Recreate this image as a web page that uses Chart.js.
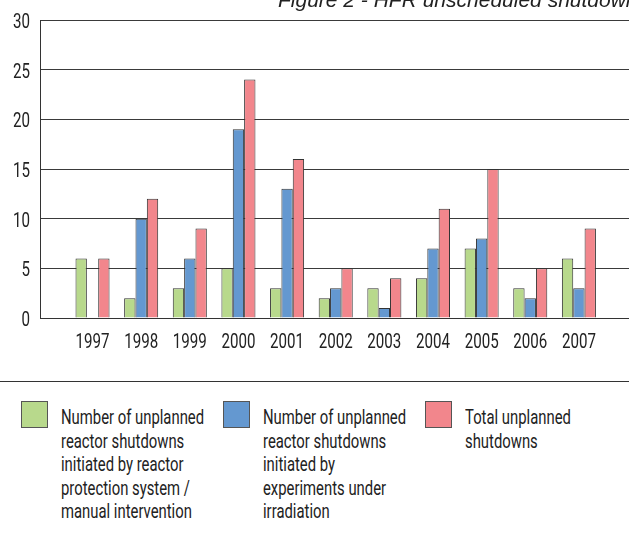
<!DOCTYPE html>
<html>
<head>
<meta charset="utf-8">
<script src="https://cdn.jsdelivr.net/npm/chart.js@4.4.1/dist/chart.umd.min.js"></script>
<style>
    html, body { margin: 0; padding: 0; background: #fff; overflow: hidden; }
    #page { position: relative; width: 629px; height: 533px; overflow: hidden; }
    #title {
        position: absolute; left: 278px; top: -11px; white-space: nowrap;
        font: italic 21px/21px "Liberation Sans", Arial, sans-serif; color: #222;
    }
    #chart-box { position: absolute; left: 0; top: 0; width: 629px; height: 380px; }
    #rule { position: absolute; left: 0; top: 381px; width: 629px; height: 0; border-top: 1.5px solid #333; }
    .legend-item { position: absolute; top: 401px; }
    .legend-item .swatch {
        position: absolute; left: 0; top: 0; width: 27px; height: 27px;
        box-sizing: border-box; border: 1px solid #555;
    }
    .legend-item .label {
        position: absolute; top: 5px; white-space: nowrap; color: #222;
        font: 21px/23.5px Roboto, "Liberation Sans", sans-serif;
        transform-origin: 0 0;
    }
</style>
</head>
<body>
<div id="page">
    <div id="chart-box"><canvas id="chart" width="629" height="380"></canvas></div>
    <div id="title">Figure 2 - HFR unscheduled shutdowns</div>
    <div id="rule"></div>
    <div id="legend"></div>
</div>
<script>
// HFR unplanned reactor shutdowns per year
const years = ["1997", "1998", "1999", "2000", "2001", "2002", "2003", "2004", "2005", "2006", "2007"];
const protectionShutdowns = [6, 2, 3, 5, 3, 2, 3, 4, 7, 3, 6];
const experimentShutdowns = [null, 10, 6, 19, 13, 3, 1, 7, 8, 2, 3];
const totalShutdowns = [6, 12, 9, 24, 16, 5, 4, 11, 15, 5, 9];
const yTicks = [0, 5, 10, 15, 20, 25, 30];

const seriesLabels = [
    ["Number of unplanned", "reactor shutdowns", "initiated by reactor", "protection system /", "manual intervention"],
    ["Number of unplanned", "reactor shutdowns", "initiated by", "experiments under", "irradiation"],
    ["Total unplanned", "shutdowns"]
];
const seriesColors = ["#b8d98c", "#6498d0", "#f2868c"];

const FONT = "Roboto, 'Liberation Sans', sans-serif";
const TICK_SIZE = 21;

function toPoints(values) {
    return values.map((v, i) => ({ x: i, y: v }));
}

// the original uses a condensed face, so tick labels are drawn squeezed
const condensedTicks = {
    id: "condensedTicks",
    afterDraw(chart) {
        const { ctx, chartArea, scales: { x, y } } = chart;
        ctx.save();
        ctx.fillStyle = "#222";
        ctx.font = TICK_SIZE + "px " + FONT;
        ctx.textBaseline = "alphabetic";
        const squeeze = 34 / ctx.measureText("1997").width;
        const drawLabel = (text, px, py, align) => {
            ctx.save();
            ctx.translate(px, py);
            ctx.scale(squeeze, 1);
            ctx.textAlign = align;
            ctx.fillText(text, 0, 0);
            ctx.restore();
        };
        x.ticks.forEach((t) => drawLabel(t.label, x.getPixelForValue(t.value), chartArea.bottom + 30, "center"));
        y.ticks.forEach((t) => drawLabel(t.label, chartArea.left - 10, y.getPixelForValue(t.value) + 8, "right"));
        ctx.restore();
    }
};

const chart = new Chart(document.getElementById("chart"), {
    type: "bar",
    data: {
        datasets: [protectionShutdowns, experimentShutdowns, totalShutdowns].map((values, i) => ({
            label: seriesLabels[i].join(" "),
            data: toPoints(values),
            backgroundColor: seriesColors[i],
            borderColor: "#333",
            borderWidth: 1,
            borderSkipped: "bottom",
            categoryPercentage: 0.7,
            barPercentage: 1.0
        }))
    },
    options: {
        responsive: false,
        animation: false,
        layout: { padding: { top: 20, right: 0, bottom: 0, left: 0 } },
        plugins: {
            legend: { display: false },
            tooltip: { enabled: false }
        },
        scales: {
            x: {
                type: "linear",
                min: -1.08,
                max: 11.03,
                offset: false,
                afterBuildTicks: (axis) => {
                    axis.ticks = years.map((y, i) => ({ value: i }));
                },
                afterFit: (axis) => { axis.height = 62; },
                ticks: {
                    display: false,
                    autoSkip: false,
                    callback: (value) => years[value] ?? ""
                },
                grid: { display: false, drawTicks: false },
                border: { display: true, color: "#333", width: 1 }
            },
            y: {
                min: 0,
                max: 30,
                afterBuildTicks: (axis) => {
                    axis.ticks = yTicks.map((v) => ({ value: v }));
                },
                afterFit: (axis) => { axis.width = 40; },
                ticks: { display: false },
                grid: { color: "#3a3a3a", lineWidth: 1, drawTicks: false },
                border: { display: true, color: "#333", width: 1 }
            }
        }
    },
    plugins: [condensedTicks]
});

// legend below the rule, built from the series labels and colours
const legendLeft = [21, 223, 425];
const textOffset = 40;
const measure = document.createElement("canvas").getContext("2d");
measure.font = "21px " + FONT;
const legendSqueeze = 143 / measure.measureText("Number of unplanned").width;
const $legend = document.getElementById("legend");
seriesLabels.forEach((lines, i) => {
    const item = document.createElement("div");
    item.className = "legend-item";
    item.style.left = legendLeft[i] + "px";
    const swatch = document.createElement("div");
    swatch.className = "swatch";
    swatch.style.background = seriesColors[i];
    const label = document.createElement("div");
    label.className = "label";
    label.style.left = textOffset + "px";
    label.style.transform = "scaleX(" + legendSqueeze.toFixed(3) + ")";
    label.innerHTML = lines.join("<br>");
    item.appendChild(swatch);
    item.appendChild(label);
    $legend.appendChild(item);
});
</script>
</body>
</html>
